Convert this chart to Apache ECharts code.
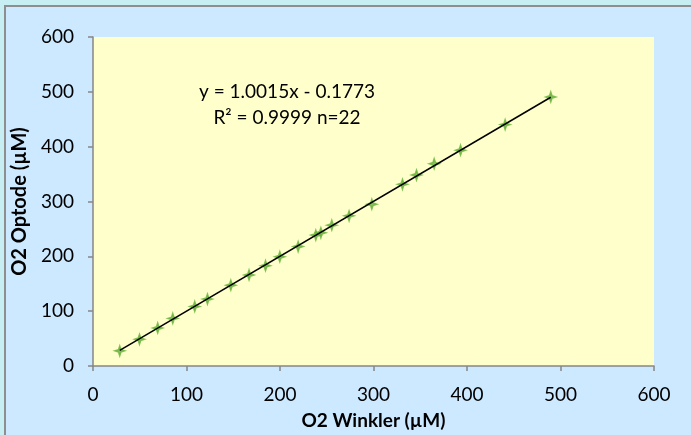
<!DOCTYPE html>
<html>
<head>
<meta charset="utf-8">
<script src="https://cdn.jsdelivr.net/npm/echarts@6/dist/echarts.min.js"></script>
<style>
  html, body { margin: 0; padding: 0; width: 691px; height: 435px; overflow: hidden; background: #C6EEF3; }
  #frame { position: absolute; left: 4px; top: 5px; width: 700px; height: 450px; background: #CCE9FF; border-left: 2px solid #8E8E8E; border-top: 2px solid #8E8E8E; }
  #chart { position: absolute; left: 0; top: 0; width: 691px; height: 435px; }
</style>
</head>
<body>
<div id="frame"></div>
<div id="chart"></div>
<script>
// O2 Winkler (µM) vs O2 Optode (µM)
const winkler = [28.6, 49.7, 69.2, 85.3, 108.8, 122.4, 147.4, 166.9, 184.5, 199.8, 219.4,
                 238.3, 243.7, 255.4, 273.9, 298.2, 331.0, 346.0, 364.9, 393.1, 440.8, 489.6];
const optode  = [27.6, 48.7, 69.4, 86.8, 108.6, 122.0, 147.4, 166.1, 183.0, 199.3, 217.9,
                 238.7, 242.9, 256.9, 273.8, 295.0, 331.3, 348.2, 368.9, 393.6, 440.2, 490.6];
const trendSlope = [1.0015];
const trendIntercept = [-0.1773];
const equationLines = ['y = 1.0015x - 0.1773', 'R² = 0.9999 n=22'];
const xTicks = [0, 100, 200, 300, 400, 500, 600];
const yTicks = [0, 100, 200, 300, 400, 500, 600];
const xTitle = 'O2 Winkler (µM)';
const yTitle = 'O2 Optode (µM)';

const points = winkler.map((x, i) => [x, optode[i]]);
const xMinD = Math.min(...winkler), xMaxD = Math.max(...winkler);
const trend = [xMinD, xMaxD].map(x => [x, trendSlope[0] * x + trendIntercept[0]]);

const chart = echarts.init(document.getElementById('chart'), null, { renderer: 'canvas' });
const font = 'Lato, "Open Sans", sans-serif';
const axisLine = { show: true, lineStyle: { color: '#868686', width: 1.5 } };
chart.setOption({
  backgroundColor: 'transparent',
  animation: false,
  textStyle: { fontFamily: font },
  grid: { left: 93, right: 37, top: 37, bottom: 67, show: true, backgroundColor: '#FFFFCC', borderWidth: 0 },
  xAxis: {
    type: 'value', min: xTicks[0], max: xTicks[xTicks.length - 1], interval: xTicks[1] - xTicks[0],
    axisLine: axisLine, axisTick: { show: true, length: 5, lineStyle: { color: '#868686', width: 1.5 } },
    splitLine: { show: false },
    axisLabel: { color: '#000', fontSize: 19, fontFamily: font, margin: 19 },
    name: xTitle, nameLocation: 'middle', nameGap: 45,
    nameTextStyle: { color: '#000', fontSize: 19, fontWeight: 'bold', fontFamily: font }
  },
  yAxis: {
    type: 'value', min: yTicks[0], max: yTicks[yTicks.length - 1], interval: yTicks[1] - yTicks[0],
    axisLine: axisLine, axisTick: { show: true, length: 5, lineStyle: { color: '#868686', width: 1.5 } },
    splitLine: { show: false },
    axisLabel: { color: '#000', fontSize: 19, fontFamily: font, margin: 19 },
    name: yTitle, nameLocation: 'middle', nameGap: 57, nameRotate: 90,
    nameTextStyle: { color: '#000', fontSize: 20, fontWeight: 'bold', fontFamily: font }
  },
  graphic: [{
    type: 'text', left: 287 - 95, top: 79,
    style: { text: equationLines.join('\n'), font: '19px ' + font, fill: '#000', textAlign: 'center', lineHeight: 26, width: 190 }
  }],
  series: [
    {
      type: 'line', data: trend, symbol: 'none', silent: true,
      lineStyle: { color: '#000', width: 1.5 }, z: 3
    },
    {
      type: 'scatter', data: points, z: 2,
      symbol: 'path://M4,0 L5,3 L8,4 L5,5 L4,8 L3,5 L0,4 L3,3 Z',
      symbolSize: 10,
      itemStyle: { color: '#6CB33F', borderColor: '#6CB33F', borderWidth: 1.5 }
    }
  ]
});
</script>
</body>
</html>
